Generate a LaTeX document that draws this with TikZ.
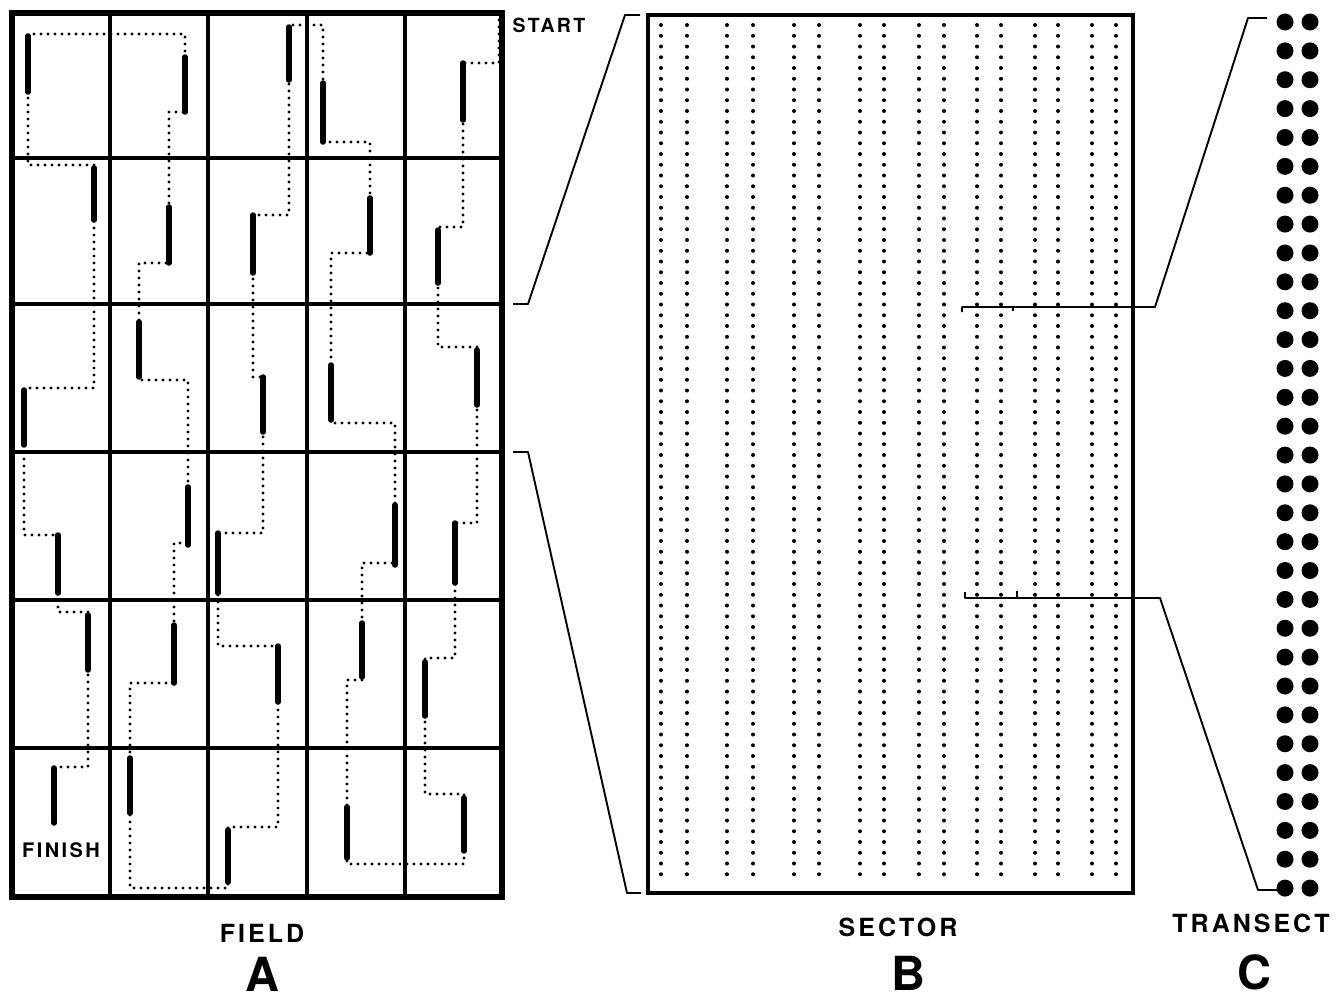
\documentclass[tikz,border=0pt]{standalone}
\usepackage{fontspec}
\newfontfamily\labfont[LetterSpace=12]{TeX Gyre Heros}
\newfontfamily\bigfont{TeX Gyre Heros}
\begin{document}
\begin{tikzpicture}[x=1pt,y=-1pt,
  gridline/.style={line width=4pt},
  frame/.style={line width=5.5pt},
  trail/.style={line width=3.3pt, line cap=round, line join=round, dash pattern=on 0pt off 7pt},
  bar/.style={line width=5.5pt, line cap=round},
  sdots/.style={line width=4pt, line cap=round, dash pattern=on 0pt off 10.75pt},
  zoomline/.style={line width=1.9pt, line join=round},
  lab/.style={font={\labfont\bfseries\fontsize{25}{30}\selectfont}, anchor=base, inner sep=0pt},
  smalllab/.style={font={\labfont\bfseries\fontsize{19.5}{24}\selectfont}, anchor=base, inner sep=0pt},
  big/.style={font={\bigfont\bfseries\fontsize{47}{56}\selectfont}, anchor=base, inner sep=0pt}]
\useasboundingbox (0,0) rectangle (1339,1001);
\fill[white] (0,0) rectangle (1339,1001);
% ---- Field A ----
\foreach \x in {110,208,307,405} \draw[gridline] (\x,13) -- (\x,897);
\foreach \y in {158,304,452,600,748} \draw[gridline] (12,\y) -- (502,\y);
\draw[frame] (12,13) rectangle (502,897);
\draw[trail] (499,20) -- (499,63) -- (463,63) -- (463,227) -- (438,227) -- (438,347) -- (477,347) -- (477,523) -- (455,523) -- (455,658) -- (425,658) -- (425,794) -- (464,794) -- (464,864) -- (347,864) -- (347,680) -- (362,680) -- (362,563) -- (395,563) -- (395,423) -- (331,423) -- (331,253) -- (370,253) -- (370,142) -- (323,142) -- (323,25) -- (289,25) -- (289,215) -- (253,215) -- (253,377) -- (263,377) -- (263,533) -- (218,533) -- (218,646) -- (278,646) -- (278,827) -- (228,827) -- (228,888) -- (130,888) -- (130,683) -- (174,683) -- (174,543) -- (188,543) -- (188,380) -- (139,380) -- (139,263) -- (169,263) -- (169,112) -- (185,112) -- (185,34) -- (28,34) -- (28,165) -- (94,165) -- (94,388) -- (24,388) -- (24,535) -- (58,535) -- (58,612) -- (88,612) -- (88,767) -- (54,767) -- (54,823);
\foreach \x/\a/\b in {463/63/120, 438/230/283, 477/350/405, 455/523/583, 425/662/716, 464/798/851,
  347/807/858, 362/623/677, 395/505/565, 331/365/420, 370/198/253, 323/83/142,
  289/27/80, 253/215/273, 263/377/432, 218/533/593, 278/646/702, 228/830/882,
  130/758/813, 174/625/683, 188/487/545, 139/322/377, 169/207/263, 185/57/112,
  28/36/92, 94/168/220, 24/390/445, 58/535/593, 88/615/670, 54/768/823}
  \draw[bar] (\x,\a) -- (\x,\b);
\node[smalllab] (start) at (549,32) {START};
\node[font={\labfont\bfseries\fontsize{20}{24}\selectfont}, anchor=base, inner sep=0pt] (finish) at (61,857) {FINISH};
% ---- Sector B ----
\draw[line width=4.8pt] (648,15) rectangle (1133,893);
\foreach \x in {661,687,727,753,794,819,860,884,919,944,977,1001,1035,1058,1092,1116}
  \draw[sdots] (\x,25) -- (\x,885);
% ---- zoom connectors ----
\coordinate (fa1) at (513,304); \coordinate (fa2) at (513,452);
\coordinate (sa1) at (640,15); \coordinate (sa2) at (641,893);
\draw[zoomline] (fa1) -- (528,304) -- (625,15) -- (sa1);
\draw[zoomline] (fa2) -- (528,452) -- (627,893) -- (sa2);
\coordinate (tb1) at (1267,18); \coordinate (tb2) at (1278,890);
\draw[zoomline] (962,312) -- (962,307) -- (1155,307) -- (1248,18) -- (tb1);
\draw[zoomline] (1013,307) -- (1013,311);
\draw[zoomline] (965,592) -- (965,598) -- (1160,598) -- (1258,890) -- (tb2);
\draw[zoomline] (1017,591) -- (1017,598);
% ---- Transect C ----
\foreach \i in {0,...,30} {
  \fill (1285,22+28.87*\i) circle[radius=8.5pt];
  \fill (1310,22+28.87*\i) circle[radius=8.5pt];
}
% ---- labels ----
\node[lab] (field) at (262,942) {FIELD};
\node[lab] (sector) at (898,936) {SECTOR};
\node[lab] (transect) at (1251,932) {TRANSECT};
\node[big] (la) at (262,991) {A};
\node[big] (lb) at (908,990) {B};
\node[big] (lc) at (1254,989) {C};
\end{tikzpicture}
\end{document}
